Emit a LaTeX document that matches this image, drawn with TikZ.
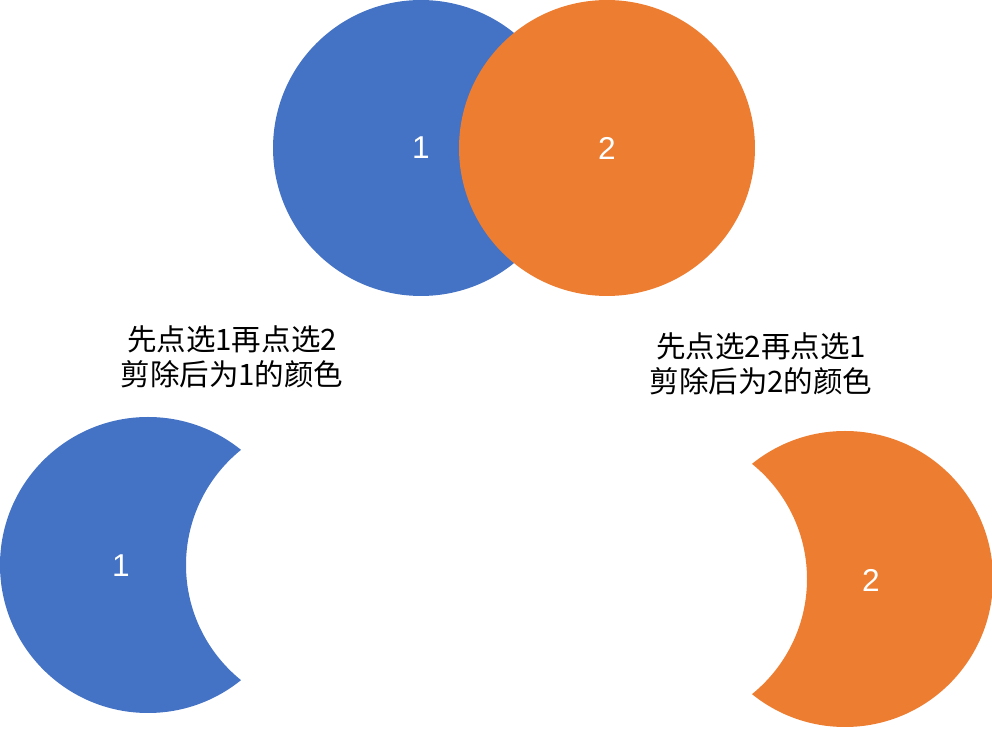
\documentclass[tikz,border=0pt]{standalone}
\usepackage{fontspec}
\setmainfont{Liberation Sans}
\newfontfamily\cjk{Noto Sans CJK SC}
\definecolor{blueone}{HTML}{4472C4}
\definecolor{orangetwo}{HTML}{ED7D31}
\tikzset{
	disc/.style={circle, inner sep=0pt, minimum size=5.92cm, text=white, font=\fontsize{18}{20}\selectfont},
	note/.style={align=center, font=\cjk\fontsize{16.8}{20}\selectfont}
}
\begin{document}
\begin{tikzpicture}[x=0.02cm, y=-0.02cm]
		\useasboundingbox (0, 0) rectangle (992, 729);
		
		% Overlapping circles
		\node[disc, fill=blueone] (one) at (421, 148) {1};
		\node[disc, fill=orangetwo] (two) at (607, 148) {2};
		
		% Captions
		\node[note] (capone) at (232, 357) {先点选1再点选2\\剪除后为1的颜色};
		\node[note] (captwo) at (761, 364) {先点选2再点选1\\剪除后为2的颜色};
		
		% Blue crescent
		\begin{scope}
			\clip (148, 565) circle[radius=148];
			\fill[blueone, even odd rule] (-10, 400) rectangle (320, 730) (334, 565) circle[radius=148];
		\end{scope}
		\node[text=white, font=\fontsize{18}{20}\selectfont] (cutone) at (121, 566) {1};
		
		% Orange crescent
		\begin{scope}
			\clip (845, 579) circle[radius=148];
			\fill[orangetwo, even odd rule] (680, 420) rectangle (1000, 740) (659, 579) circle[radius=148];
		\end{scope}
		\node[text=white, font=\fontsize{18}{20}\selectfont] (cuttwo) at (871, 580) {2};
	\end{tikzpicture}
\end{document}
